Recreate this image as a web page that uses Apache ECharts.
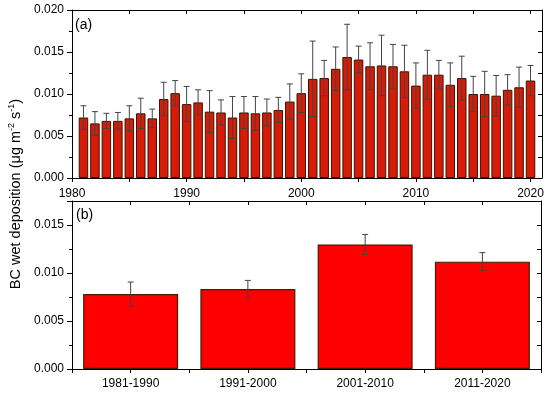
<!DOCTYPE html>
<html><head><meta charset="utf-8">
<script src="https://cdn.jsdelivr.net/npm/echarts@6/dist/echarts.min.js"></script>
<style>html,body{margin:0;padding:0;background:#fff}#c{width:550px;height:394px}</style>
</head><body><div id="c"></div>
<script>
// ---- data ----
const years = [1981,1982,1983,1984,1985,1986,1987,1988,1989,1990,
               1991,1992,1993,1994,1995,1996,1997,1998,1999,2000,
               2001,2002,2003,2004,2005,2006,2007,2008,2009,2010,
               2011,2012,2013,2014,2015,2016,2017,2018,2019,2020];
const annualMean = [0.0072,0.0065,0.0068,0.0068,0.0071,0.0077,0.0071,0.0094,0.0101,0.0088,
                    0.0090,0.0079,0.0078,0.0072,0.0078,0.0077,0.0078,0.0081,0.0091,0.0101,
                    0.0118,0.0119,0.0130,0.0144,0.0141,0.0133,0.0134,0.0133,0.0127,0.0110,
                    0.0123,0.0123,0.0111,0.0119,0.0100,0.0100,0.0098,0.0105,0.0108,0.0116];
const annualErr  = [0.0014,0.0014,0.0009,0.0010,0.0015,0.0018,0.0011,0.0020,0.0015,0.0021,
                    0.0015,0.0025,0.0015,0.0025,0.0019,0.0020,0.0016,0.0015,0.0021,0.0023,
                    0.0045,0.0021,0.0026,0.0039,0.0016,0.0028,0.0036,0.0026,0.0031,0.0027,
                    0.0029,0.0017,0.0026,0.0026,0.0021,0.0027,0.0024,0.0018,0.0024,0.0018];
const periods    = ['1981-1990','1991-2000','2001-2010','2011-2020'];
const periodMean = [0.00781,0.00833,0.01297,0.01118];
const periodErr  = [0.00125,0.00090,0.00105,0.00094];

const FONT = 'Liberation Sans, Arial, sans-serif';
const axisCommon = {
  axisLine:{show:true,onZero:false,lineStyle:{color:'#000',width:1}},
  splitLine:{show:false},
  axisLabel:{color:'#000',fontSize:12,fontFamily:FONT}
};
function errRender(params, api){
  const x = api.value(0), v = api.value(1), e = api.value(2);
  const hi = api.coord([x, v+e]), lo = api.coord([x, v-e]);
  const w = 3;
  const st = {stroke:'#444', lineWidth:1};
  return {type:'group', children:[
    {type:'line', shape:{x1:hi[0],y1:hi[1],x2:lo[0],y2:lo[1]}, style:st},
    {type:'line', shape:{x1:hi[0]-w,y1:hi[1],x2:hi[0]+w,y2:hi[1]}, style:st},
    {type:'line', shape:{x1:lo[0]-w,y1:lo[1],x2:lo[0]+w,y2:lo[1]}, style:st}
  ]};
}

const annualBars = years.map((y,i)=>[y, annualMean[i]]);
const annualErrs = years.map((y,i)=>[y, annualMean[i], annualErr[i]]);
const periodBars = periods.map((p,i)=>[i+1, periodMean[i]]);
const periodErrs = periods.map((p,i)=>[i+1, periodMean[i], periodErr[i]]);

const chart = echarts.init(document.getElementById('c'), null, {renderer:'canvas'});
chart.setOption({
  animation:false,
  backgroundColor:'#fff',
  textStyle:{fontFamily:FONT},
  grid:[
    {left:72, right:8, top:10, height:168, outerBoundsMode:'none'},
    {left:72, right:9, top:201, height:168, outerBoundsMode:'none'}
  ],
  xAxis:[
    Object.assign({}, axisCommon, {gridIndex:0, type:'value', min:1980, max:2021, interval:5, position:'bottom',
      axisTick:{show:true,inside:false,length:4,lineStyle:{color:'#000'}},
      axisLabel:Object.assign({}, axisCommon.axisLabel, {margin:10, showMaxLabel:false,
        formatter:v=> (v%10===0 ? String(v) : '')})}),
    Object.assign({}, axisCommon, {gridIndex:0, type:'value', min:1980, max:2021, interval:5, position:'top',
      axisTick:{show:true,inside:true,length:4,lineStyle:{color:'#000'}}, axisLabel:{show:false}}),
    Object.assign({}, axisCommon, {gridIndex:1, type:'value', min:0.5, max:4.5, interval:0.5, position:'bottom',
      axisTick:{show:true,inside:false,length:4,lineStyle:{color:'#000'}},
      axisLabel:Object.assign({}, axisCommon.axisLabel, {margin:9,
        formatter:v=> (Number.isInteger(v) ? periods[v-1] : '')})}),
    Object.assign({}, axisCommon, {gridIndex:1, type:'value', min:0.5, max:4.5, interval:0.5, position:'top',
      axisTick:{show:true,inside:true,length:4,lineStyle:{color:'#000'}}, axisLabel:{show:false}})
  ],
  yAxis:[
    Object.assign({}, axisCommon, {gridIndex:0, type:'value', min:0, max:0.02, interval:0.005, position:'left',
      axisTick:{show:true,inside:false,length:5,lineStyle:{color:'#000'}},
      minorTick:{show:true,splitNumber:2,length:3,lineStyle:{color:'#000'}},
      axisLabel:Object.assign({}, axisCommon.axisLabel, {margin:8, formatter:v=>v.toFixed(3)})}),
    Object.assign({}, axisCommon, {gridIndex:0, type:'value', min:0, max:0.02, interval:0.0025, position:'right',
      axisTick:{show:true,inside:true,length:4,lineStyle:{color:'#000'}}, axisLabel:{show:false}}),
    Object.assign({}, axisCommon, {gridIndex:1, type:'value', min:0, max:0.0175, interval:0.005, position:'left',
      axisTick:{show:true,inside:false,length:5,lineStyle:{color:'#000'}},
      minorTick:{show:true,splitNumber:2,length:3,lineStyle:{color:'#000'}},
      axisLabel:Object.assign({}, axisCommon.axisLabel, {margin:8, showMaxLabel:false,
        formatter:v=> (Math.abs(v/0.005 - Math.round(v/0.005))<1e-6 ? v.toFixed(3) : '')})}),
    Object.assign({}, axisCommon, {gridIndex:1, type:'value', min:0, max:0.0175, interval:0.0025, position:'right',
      axisTick:{show:true,inside:true,length:4,lineStyle:{color:'#000'}}, axisLabel:{show:false}})
  ],
  series:[
    {type:'bar', xAxisIndex:0, yAxisIndex:0, data:annualBars, barWidth:9.5,
      itemStyle:{color:'#d61c08', borderColor:'#3a1400', borderWidth:1}},
    {type:'custom', xAxisIndex:0, yAxisIndex:0, data:annualErrs, renderItem:errRender, z:5},
    {type:'bar', xAxisIndex:2, yAxisIndex:2, data:periodBars, barWidth:95,
      itemStyle:{color:'#ff0000', borderColor:'#402000', borderWidth:1.2}},
    {type:'custom', xAxisIndex:2, yAxisIndex:2, data:periodErrs, renderItem:errRender, z:5}
  ],
  graphic:[
    {type:'text', x:16, y:194, rotation:Math.PI/2, z:10,
      style:{text:'BC wet deposition (μg m{sup|-2} s{sup|-1})', fill:'#000', font:'14.5px '+FONT,
        align:'center', verticalAlign:'middle',
        rich:{sup:{fontSize:9, verticalAlign:'top', padding:[0,0,8,0], fontFamily:FONT}}}},
    {type:'text', x:75, y:25, style:{text:'(a)', fill:'#000', font:'14px '+FONT, verticalAlign:'middle'}},
    {type:'text', x:76, y:215, style:{text:'(b)', fill:'#000', font:'14px '+FONT, verticalAlign:'middle'}}
  ]
});
</script></body></html>
